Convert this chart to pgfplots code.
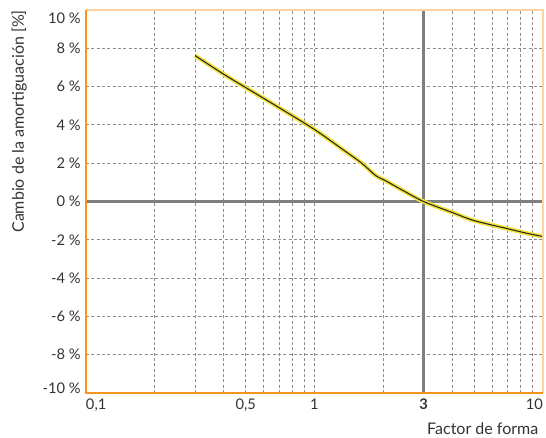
\documentclass[border=0pt]{standalone}
\usepackage{pgfplots}
\pgfplotsset{compat=1.18}
\usepackage{fontspec}
\setmainfont{Lato}
\definecolor{axorange}{HTML}{F7941D}
\definecolor{axlight}{HTML}{FDD3A0}
\definecolor{gridgray}{HTML}{8C8C8C}
\definecolor{zerogray}{HTML}{7F7F7F}
\definecolor{halo}{HTML}{F2E33A}
\definecolor{txt}{HTML}{333333}
\begin{document}
\begin{tikzpicture}
\begin{axis}[
  scale only axis,
  width=342.75pt, height=287.25pt,
  xmode=log,
  xmin=0.1, xmax=10,
  ymin=-10, ymax=10,
  axis line style={draw=none},
  tick style={draw=none},
  major tick length=0pt, minor tick length=0pt,
  xtick={0.1,0.5,1,3,10},
  xticklabels={\makebox[0pt][l]{0,1},{0,5},1,\textbf{3},\makebox[0pt][r]{10}},
  minor xtick={0.2,0.3,0.4,0.5,0.6,0.7,0.8,0.9,1,2,4,5,6,7,8,9},
  xminorgrids=true,
  ytick={-8,-6,-4,-2,0,2,4,6,8},
  yticklabels={-8 \%,-6 \%,-4 \%,-2 \%,0 \%,2 \%,4 \%,6 \%,8 \%},
  extra y ticks={10,-10},
  extra y tick labels={\raisebox{-10pt}[0pt][0pt]{10 \%},\raisebox{-0.3pt}[0pt][0pt]{-10 \%}},
  extra y tick style={grid=none},
  ymajorgrids=true,
  major grid style={gridgray, line width=0.6pt, dash pattern=on 2.2pt off 1.8pt},
  minor grid style={gridgray, line width=0.6pt, dash pattern=on 2.2pt off 1.8pt},
  tick label style={font=\fontsize{11pt}{13pt}\selectfont, text=txt},
  xticklabel style={yshift=-1pt},
  yticklabel style={xshift=-0.5pt},
  xlabel={Factor de forma},
  xlabel style={at={(axis description cs:1,0)}, anchor=north east, yshift=-19pt, font=\fontsize{12pt}{14pt}\selectfont, text=txt},
  ylabel={Cambio de la amortiguación [\%]},
  ylabel style={at={(axis description cs:-0.1195,1.0115)}, anchor=south east, font=\fontsize{12pt}{14pt}\selectfont, text=txt},
  clip=false,
]
\addplot[zerogray, line width=2pt, forget plot] coordinates {(0.1,0) (10,0)};
\addplot[zerogray, line width=2pt, forget plot] coordinates {(3,-10) (3,10)};
\addplot[halo, line width=3.2pt, smooth, tension=0.45] coordinates {
(0.3,7.62) (0.4,6.65) (0.5,5.95) (0.7,4.9) (1.0,3.76) (1.3,2.8) (1.61,2.0) (1.85,1.36) (2.05,1.08) (2.4,0.62) (3.0,0.0) (4.0,-0.57) (5.0,-1.0) (7.0,-1.42) (8.5,-1.66) (10.0,-1.83)};
\addplot[black!85, line width=0.8pt, smooth, tension=0.45] coordinates {
(0.3,7.62) (0.4,6.65) (0.5,5.95) (0.7,4.9) (1.0,3.76) (1.3,2.8) (1.61,2.0) (1.85,1.36) (2.05,1.08) (2.4,0.62) (3.0,0.0) (4.0,-0.57) (5.0,-1.0) (7.0,-1.42) (8.5,-1.66) (10.0,-1.83)};
\draw[axlight, line width=1.4pt] (rel axis cs:0,1) -- (rel axis cs:1,1) -- (rel axis cs:1,0);
\draw[axorange, line width=2pt] (rel axis cs:0,1) -- (rel axis cs:0,0) -- (rel axis cs:1,0);
\coordinate (sw) at (rel axis cs:0,0);
\coordinate (ne) at (rel axis cs:1,1);
\end{axis}
\pgfresetboundingbox
\path (sw) ++(-64.5pt,-33.75pt) coordinate (a);
\path (ne) ++(2.25pt,7.5pt) coordinate (b);
\path (a) rectangle (b);
\end{tikzpicture}
\end{document}
